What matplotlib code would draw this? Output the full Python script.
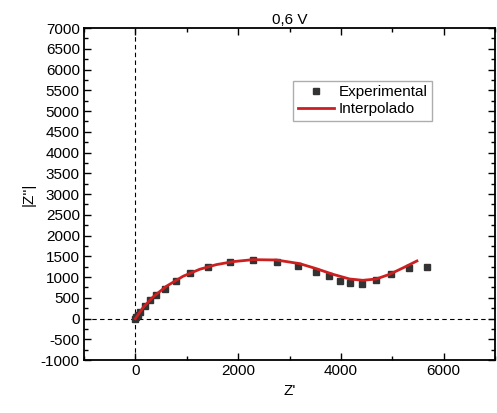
import matplotlib.pyplot as plt
from matplotlib.ticker import MultipleLocator

plt.rcParams['font.family'] = ['Liberation Sans', 'DejaVu Sans']
plt.rcParams['axes.unicode_minus'] = False

# Datos experimentales (Z', |Z''|)
z_real_exp = [0, 20, 45, 84, 182, 279, 409, 571, 798, 1070, 1414, 1835, 2289,
              2756, 3165, 3508, 3768, 3975, 4183, 4410, 4689, 4981, 5324, 5675]
z_imag_exp = [0, 40, 85, 161, 297, 442, 578, 723, 907, 1092, 1253, 1357, 1405,
              1373, 1277, 1132, 1020, 907, 851, 843, 923, 1068, 1212, 1253]

# Curva interpolada
z_real_fit = [0, 149, 344, 603, 927, 1252, 1576, 1900, 2289, 2743, 3197, 3521,
              3846, 4170, 4429, 4689, 4948, 5207, 5480]
z_imag_fit = [0, 265, 522, 779, 1020, 1189, 1301, 1373, 1421, 1413, 1325, 1204,
              1068, 955, 923, 955, 1068, 1221, 1389]

fig = plt.figure(figsize=(4.97, 4.13), dpi=100)
ax = fig.add_axes([0.169, 0.128, 0.827, 0.804])

ax.axvline(0, color='black', ls='--', lw=0.8, dashes=(4, 3))
ax.axhline(0, color='black', ls='--', lw=0.8, dashes=(4, 3))

ax.plot(z_real_exp, z_imag_exp, 's', color='#333333', ms=4.5, label='Experimental')
ax.plot(z_real_fit, z_imag_fit, '-', color='#cc2020', lw=2, label='Interpolado')

ax.set_xlim(-1000, 7000)
ax.set_ylim(-1000, 7000)
ax.xaxis.set_major_locator(MultipleLocator(2000))
ax.xaxis.set_minor_locator(MultipleLocator(1000))
ax.yaxis.set_major_locator(MultipleLocator(500))
ax.yaxis.set_minor_locator(MultipleLocator(250))
ax.tick_params(which='both', direction='in', top=True, right=True,
               labelsize=11, width=1, pad=3)
ax.tick_params(which='major', length=5)
ax.tick_params(which='minor', length=3)
for s in ax.spines.values():
    s.set_linewidth(1.3)

ax.set_title('0,6 V', fontsize=11, pad=3)
ax.set_xlabel("Z'", fontsize=11)
ax.set_ylabel("|Z''|", fontsize=11, labelpad=4)

leg = ax.legend(loc='upper left', bbox_to_anchor=(0.49, 0.865), fontsize=11,
                frameon=True, fancybox=False, handlelength=2.4,
                borderpad=0.3, labelspacing=0.2, handletextpad=0.3)
leg.get_frame().set_edgecolor('#999999')

fig.savefig('out.png', dpi=100)
print("Gráfico guardado como out.png")
